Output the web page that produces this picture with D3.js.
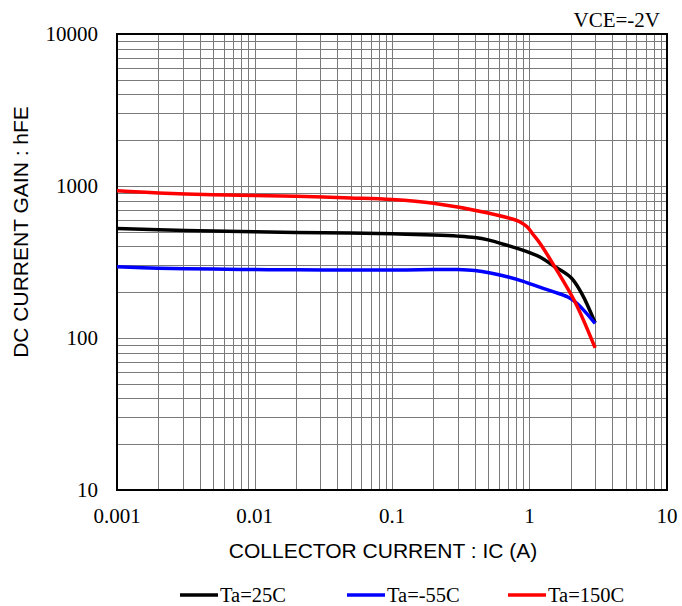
<!DOCTYPE html>
<html>
<head>
<meta charset="utf-8">
<script src="https://cdn.jsdelivr.net/npm/d3@7"></script>
<style>
  body { margin: 0; background: #fff; }
</style>
</head>
<body>
<div id="chart"></div>
<script>
// collector current (A) and hFE
var ic25 = [0.001, 0.002, 0.005, 0.01, 0.02, 0.05, 0.1, 0.2, 0.3, 0.4, 0.5, 0.7, 1.0, 1.2, 1.5, 2.0, 2.4, 3.0];
var hfe25 = [525, 515, 505, 500, 495, 490, 485, 476, 468, 458, 442, 405, 365, 340, 298, 250, 196, 126];

var icM55 = [0.001, 0.002, 0.005, 0.01, 0.02, 0.05, 0.1, 0.2, 0.3, 0.4, 0.52, 0.7, 0.9, 1.2, 1.5, 1.9, 2.2, 3.0];
var hfeM55 = [294, 288, 284, 282, 281, 280, 280, 282, 282, 278, 268, 252, 236, 215, 201, 186, 170, 125];

var ic150 = [0.001, 0.002, 0.005, 0.01, 0.02, 0.05, 0.1, 0.2, 0.5, 0.8, 0.86, 0.96, 1.07, 1.19, 1.53, 2.14, 3.0];
var hfe150 = [930, 900, 875, 865, 855, 835, 815, 770, 665, 595, 578, 540, 476, 420, 293, 173, 86];

var seriesNames = ["Ta=25C", "Ta=-55C", "Ta=150C"];
var seriesColors = ["#000000", "#0000ff", "#ff0000"];

var xTickValues = [0.001, 0.01, 0.1, 1, 10];
var xTickLabels = ["0.001", "0.01", "0.1", "1", "10"];
var yTickValues = [10, 100, 1000, 10000];
var yTickLabels = ["10", "100", "1000", "10000"];

var SERIF = "'Liberation Serif', 'Times New Roman', 'DejaVu Serif', serif";
var SANS = "'Liberation Sans', Arial, sans-serif";

var width = 682, height = 606;
var margin = {top: 34, right: 15, bottom: 116, left: 117};
var w = width - margin.left - margin.right,
    h = height - margin.top - margin.bottom;

var svg = d3.select("#chart").append("svg")
    .attr("width", width)
    .attr("height", height);

var x = d3.scaleLog().domain([0.001, 10]).range([0, w]);
var y = d3.scaleLog().domain([10, 10000]).range([h, 0]);

var g = svg.append("g")
    .attr("transform", "translate(" + margin.left + "," + margin.top + ")");

// grid (1..9 per decade)
g.append("g").attr("class", "grid x")
  .selectAll("line").data(x.ticks()).enter()
  .append("line")
    .attr("x1", function(d) { return Math.round(x(d)) + 0.5; })
    .attr("x2", function(d) { return Math.round(x(d)) + 0.5; })
    .attr("y1", 0).attr("y2", h)
    .attr("stroke", "#7a7a7a").attr("stroke-width", 1);

g.append("g").attr("class", "grid y")
  .selectAll("line").data(y.ticks()).enter()
  .append("line")
    .attr("y1", function(d) { return Math.round(y(d)) + 0.5; })
    .attr("y2", function(d) { return Math.round(y(d)) + 0.5; })
    .attr("x1", 0).attr("x2", w)
    .attr("stroke", "#7a7a7a").attr("stroke-width", 1);

// frame
g.append("rect")
  .attr("x", 0).attr("y", 0).attr("width", w).attr("height", h)
  .attr("fill", "none").attr("stroke", "#000").attr("stroke-width", 2);

// tick labels
g.append("g").selectAll("text").data(xTickValues).enter()
  .append("text")
    .attr("x", function(d) { return x(d); })
    .attr("y", h + 33)
    .attr("text-anchor", "middle")
    .style("font-family", SERIF)
    .style("font-size", "21px")
    .text(function(d, i) { return xTickLabels[i]; });

g.append("g").selectAll("text").data(yTickValues).enter()
  .append("text")
    .attr("x", -19)
    .attr("y", function(d) { return y(d) + 7; })
    .attr("text-anchor", "end")
    .style("font-family", SERIF)
    .style("font-size", "21px")
    .text(function(d, i) { return yTickLabels[i]; });

// axis titles
svg.append("text")
  .attr("x", 383)
  .attr("y", 558)
  .attr("text-anchor", "middle")
  .style("font-family", SANS)
  .style("font-size", "21px")
  .text("COLLECTOR CURRENT : IC (A)");

svg.append("text")
  .attr("transform", "translate(28,232) rotate(-90)")
  .attr("text-anchor", "middle")
  .style("font-family", SANS)
  .style("font-size", "21px")
  .text("DC CURRENT GAIN : hFE");

svg.append("text")
  .attr("x", 660)
  .attr("y", 27)
  .attr("text-anchor", "end")
  .style("font-family", SERIF)
  .style("font-size", "21px")
  .text("VCE=-2V");

// curves
var data = [
  {name: seriesNames[0], color: seriesColors[0], ic: ic25, hfe: hfe25},
  {name: seriesNames[1], color: seriesColors[1], ic: icM55, hfe: hfeM55},
  {name: seriesNames[2], color: seriesColors[2], ic: ic150, hfe: hfe150}
];

var line = d3.line()
    .curve(d3.curveCatmullRom.alpha(0.5))
    .x(function(d) { return x(d[0]); })
    .y(function(d) { return y(d[1]); });

g.append("g").attr("class", "lines")
  .selectAll("path").data(data).enter()
  .append("path")
    .attr("d", function(s) { return line(d3.zip(s.ic, s.hfe)); })
    .attr("fill", "none")
    .attr("stroke", function(s) { return s.color; })
    .attr("stroke-width", 3.5)
    .attr("stroke-linejoin", "round");

// legend
var legendX = [180, 347, 508];
var legend = svg.append("g").attr("class", "legend")
  .selectAll("g").data(data).enter()
  .append("g")
    .attr("transform", function(d, i) { return "translate(" + legendX[i] + ",595)"; });

legend.append("line")
  .attr("x1", 0).attr("x2", 38)
  .attr("y1", 0).attr("y2", 0)
  .attr("stroke", function(d) { return d.color; })
  .attr("stroke-width", 3.5);

legend.append("text")
  .attr("x", 40)
  .attr("y", 7)
  .style("font-family", SERIF)
  .style("font-size", "20.5px")
  .text(function(d) { return d.name; });
</script>
</body>
</html>
